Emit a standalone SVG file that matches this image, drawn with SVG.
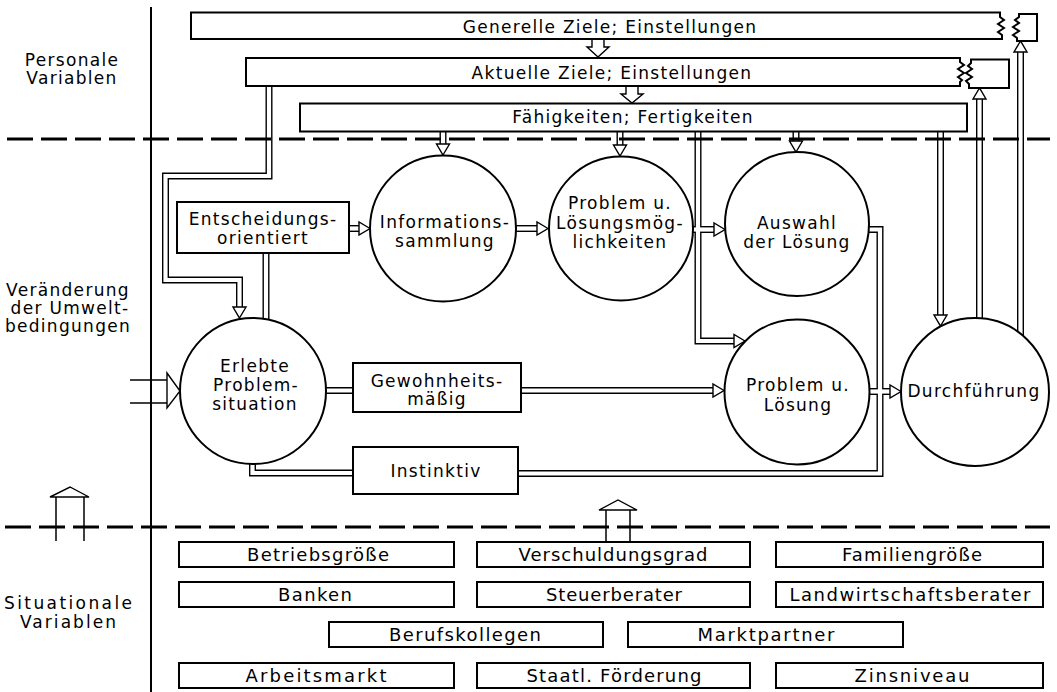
<svg xmlns="http://www.w3.org/2000/svg" xmlns:xlink="http://www.w3.org/1999/xlink" width="1057" height="692" viewBox="0 0 1057 692">
<style>
.box{fill:#fff;stroke:#000;stroke-width:2}
.circ{fill:#fff;stroke:#000;stroke-width:2}
.t{font-family:"DejaVu Sans",sans-serif;font-size:17px;letter-spacing:1.3px;text-anchor:middle;fill:#000}
.b{font-family:"DejaVu Sans",sans-serif;font-size:18px;text-anchor:middle;fill:#000}
.bl{font-family:"DejaVu Sans",sans-serif;font-size:17px;text-anchor:middle;fill:#000}
.outer use{fill:none;stroke:#000;stroke-width:7;stroke-linejoin:miter}
.inner use{fill:none;stroke:#fff;stroke-width:4.2;stroke-linejoin:miter}
.ah{fill:#fff;stroke:#000;stroke-width:1.4;stroke-linejoin:miter}
.single{fill:none;stroke:#000;stroke-width:1.5}
.dash{fill:none;stroke:#000;stroke-width:3;stroke-dasharray:26 8}
.rule{fill:none;stroke:#000;stroke-width:2}
</style>
<defs>
<path id="ah" d="M0,0 L-11,-6.5 L-11,6.5 Z"/>
<path id="p1" d="M269,86 V176 H165.5 V280 H239.5 V310"/>
<path id="p2" d="M443,131 V147"/>
<path id="p3" d="M620,131 V148"/>
<path id="p4" d="M796,131 V144"/>
<path id="p5" d="M698,131 V341 H737"/>
<path id="p6" d="M688,229.5 H717"/>
<path id="p7" d="M349,228.5 H362"/>
<path id="p8" d="M512,228.5 H540"/>
<path id="p9" d="M266,253 V322"/>
<path id="p10" d="M322,390.5 H355"/>
<path id="p11" d="M519,390.5 H716"/>
<path id="p12" d="M252.5,460 V473 H355"/>
<path id="p13" d="M864,229.5 H880 V473.5 H516"/>
<path id="p14" d="M864,391.5 H893"/>
<path id="p15" d="M940.5,131 V318"/>
<path id="p16" d="M979.5,322 V96"/>
<path id="p17" d="M1020.5,338 V49"/>
</defs>
<rect width="1057" height="692" fill="#fff"/>
<path class="rule" d="M151,7 V692"/>
<g id="connectors">
<g class="outer">
<use xlink:href="#p1"/><use xlink:href="#p2"/><use xlink:href="#p3"/><use xlink:href="#p4"/><use xlink:href="#p5"/><use xlink:href="#p6"/><use xlink:href="#p7"/><use xlink:href="#p8"/><use xlink:href="#p9"/><use xlink:href="#p10"/><use xlink:href="#p11"/><use xlink:href="#p12"/><use xlink:href="#p13"/><use xlink:href="#p14"/><use xlink:href="#p15"/><use xlink:href="#p16"/><use xlink:href="#p17"/>
</g>
<g class="inner">
<use xlink:href="#p1"/><use xlink:href="#p2"/><use xlink:href="#p3"/><use xlink:href="#p4"/><use xlink:href="#p5"/><use xlink:href="#p6"/><use xlink:href="#p7"/><use xlink:href="#p8"/><use xlink:href="#p9"/><use xlink:href="#p10"/><use xlink:href="#p11"/><use xlink:href="#p12"/><use xlink:href="#p13"/><use xlink:href="#p14"/><use xlink:href="#p15"/><use xlink:href="#p16"/><use xlink:href="#p17"/>
</g>
<g class="ah">
<use xlink:href="#ah" transform="translate(239.5,318) rotate(90)"/>
<use xlink:href="#ah" transform="translate(443,155) rotate(90)"/>
<use xlink:href="#ah" transform="translate(620,156) rotate(90)"/>
<use xlink:href="#ah" transform="translate(796,152) rotate(90)"/>
<use xlink:href="#ah" transform="translate(745,341)"/>
<use xlink:href="#ah" transform="translate(725,229.5)"/>
<use xlink:href="#ah" transform="translate(370,228.5)"/>
<use xlink:href="#ah" transform="translate(548,228.5)"/>
<use xlink:href="#ah" transform="translate(724,390.5)"/>
<use xlink:href="#ah" transform="translate(901,391.5)"/>
<use xlink:href="#ah" transform="translate(940.5,326) rotate(90)"/>
<use xlink:href="#ah" transform="translate(979.5,88) rotate(-90)"/>
<use xlink:href="#ah" transform="translate(1020.5,41) rotate(-90)"/>
</g>
<path class="ah" d="M592,38 H604 V47 H609 L598,57 L587,47 H592 Z"/>
<path class="ah" d="M626,85 H638 V94 H643 L632,103 L621,94 H626 Z"/>
<path class="single" d="M130,380 H168 M130,403 H168"/>
<path class="ah" d="M167,373 L180,391 L167,408 Z"/>
<path class="single" d="M56,497 V541 M84,497 V541 M606,510 V541 M630,510 V541"/>
<path class="ah" d="M50,497 L70,487 L89,497 Z"/>
<path class="ah" d="M599,510 L618,500 L637,510 Z"/>
</g>
<g id="generelle">
<path class="box" d="M191,12.5 H1000 V17 L1004,20 L998,24 L1004,28 L998,32 L1002,35 V39 H191 Z"/>
<path class="box" d="M1019,14 H1037 V41 H1017 V38 L1013,35 L1019,31 L1013,27 L1019,23 L1015,20 L1019,17 Z"/>
<text class="t" x="610" y="33">Generelle Ziele; Einstellungen</text>
</g>
<g id="aktuelle">
<path class="box" d="M246,58 H960 V62 L964,65 L958,69 L964,73 L958,77 L962,80 L960,82 V86 H246 Z"/>
<path class="box" d="M971,59.5 H1009 V88 H969 V84 L966,81 L972,77 L966,73 L972,69 L968,66 L971,63 Z"/>
<text class="t" x="612" y="79">Aktuelle Ziele; Einstellungen</text>
</g>
<g id="faehigkeiten">
<rect class="box" x="300" y="103.5" width="667" height="28"/>
<text class="t" x="633" y="123">Fähigkeiten; Fertigkeiten</text>
</g>
<g id="entscheidung">
<rect class="box" x="177" y="202" width="172" height="51"/>
<text class="t" x="263" y="225">Entscheidungs-</text>
<text class="t" x="263" y="244">orientiert</text>
</g>
<g id="information">
<circle class="circ" cx="443" cy="228.5" r="73"/>
<text class="t" x="445" y="228">Informations-</text>
<text class="t" x="445" y="247">sammlung</text>
</g>
<g id="loesungsmoeglichkeiten">
<circle class="circ" cx="621" cy="228.5" r="72"/>
<text class="t" x="620" y="209">Problem u.</text>
<text class="t" x="620" y="229">Lösungsmög-</text>
<text class="t" x="620" y="248">lichkeiten</text>
</g>
<g id="auswahl">
<circle class="circ" cx="797" cy="224" r="72"/>
<text class="t" x="797" y="229">Auswahl</text>
<text class="t" x="797" y="248">der Lösung</text>
</g>
<g id="erlebte">
<circle class="circ" cx="253" cy="391" r="73"/>
<text class="t" x="255" y="372">Erlebte</text>
<text class="t" x="256" y="391">Problem-</text>
<text class="t" x="255" y="410">situation</text>
</g>
<g id="gewohnheit">
<rect class="box" x="353" y="363" width="168" height="49"/>
<text class="t" x="437" y="386.5">Gewohnheits-</text>
<text class="t" x="437" y="405">mäßig</text>
</g>
<g id="instinktiv">
<rect class="box" x="353" y="447" width="165" height="47"/>
<text class="t" x="436" y="477">Instinktiv</text>
</g>
<g id="problemloesung">
<circle class="circ" cx="797" cy="392" r="72.5"/>
<text class="t" x="798" y="391">Problem u.</text>
<text class="t" x="798" y="411">Lösung</text>
</g>
<g id="durchfuehrung">
<circle class="circ" cx="975" cy="392" r="74"/>
<text class="t" x="974" y="397">Durchführung</text>
</g>
<path class="dash" d="M7,139 H1050"/>
<path class="dash" d="M5,527 H1050"/>
<g id="labels">
<text class="t" x="72" y="66">Personale</text>
<text class="t" x="72" y="84">Variablen</text>
<text class="t" x="68" y="296">Veränderung</text>
<text class="t" x="70" y="314">der Umwelt-</text>
<text class="t" x="68" y="332">bedingungen</text>
<text class="bl" x="68" y="609" textLength="128" lengthAdjust="spacing">Situationale</text>
<text class="bl" x="68" y="628" textLength="96" lengthAdjust="spacing">Variablen</text>
</g>
<g id="situational">
<g id="betriebsgroesse"><rect class="box" x="179" y="542" width="275" height="25"/><text class="b" x="318" y="561" textLength="142" lengthAdjust="spacing">Betriebsgröße</text></g>
<g id="verschuldungsgrad"><rect class="box" x="477" y="542" width="273" height="25"/><text class="b" x="613" y="561" textLength="189" lengthAdjust="spacing">Verschuldungsgrad</text></g>
<g id="familiengroesse"><rect class="box" x="776" y="542" width="267" height="25"/><text class="b" x="912" y="561" textLength="140" lengthAdjust="spacing">Familiengröße</text></g>
<g id="banken"><rect class="box" x="179" y="582" width="275" height="25"/><text class="b" x="315" y="601" textLength="74" lengthAdjust="spacing">Banken</text></g>
<g id="steuerberater"><rect class="box" x="477" y="582" width="273" height="25"/><text class="b" x="614" y="601" textLength="136" lengthAdjust="spacing">Steuerberater</text></g>
<g id="landwirtschaftsberater"><rect class="box" x="776" y="582" width="267" height="25"/><text class="b" x="910" y="601" textLength="241" lengthAdjust="spacing">Landwirtschaftsberater</text></g>
<g id="berufskollegen"><rect class="box" x="329" y="622" width="274" height="25"/><text class="b" x="465" y="641" textLength="152" lengthAdjust="spacing">Berufskollegen</text></g>
<g id="marktpartner"><rect class="box" x="628" y="622" width="275" height="25"/><text class="b" x="766" y="641" textLength="137" lengthAdjust="spacing">Marktpartner</text></g>
<g id="arbeitsmarkt"><rect class="box" x="179" y="663" width="275" height="25"/><text class="b" x="316" y="682" textLength="141" lengthAdjust="spacing">Arbeitsmarkt</text></g>
<g id="foerderung"><rect class="box" x="477" y="663" width="273" height="25"/><text class="b" x="614" y="682" textLength="175" lengthAdjust="spacing">Staatl. Förderung</text></g>
<g id="zinsniveau"><rect class="box" x="776" y="663" width="267" height="25"/><text class="b" x="912" y="682" textLength="115" lengthAdjust="spacing">Zinsniveau</text></g>
</g>
</svg>
